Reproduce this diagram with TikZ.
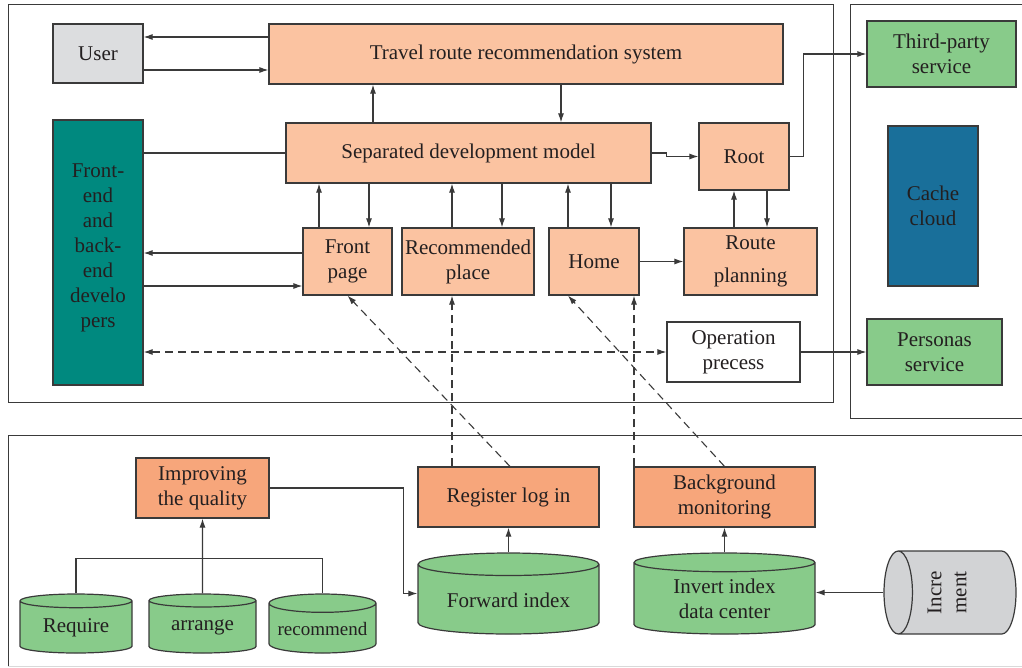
\documentclass[tikz,border=0pt]{standalone}
\usepackage{fontspec}
\setmainfont{Liberation Serif}
\usepackage{graphicx}
\usetikzlibrary{arrows.meta,shapes.geometric}
\definecolor{linec}{HTML}{3A3A3A}
\definecolor{txt}{HTML}{231F20}
\definecolor{peach}{HTML}{FBC3A1}
\definecolor{deeppeach}{HTML}{F7A67B}
\definecolor{leaf}{HTML}{88CB8A}
\definecolor{teal}{HTML}{00897F}
\definecolor{sea}{HTML}{196F9A}
\definecolor{usergrey}{HTML}{DCDDDF}
\definecolor{incgrey}{HTML}{D2D3D5}
\begin{document}
\begin{tikzpicture}[x=1pt, y=-1pt,
    font=\fontsize{21}{25}\selectfont,
    >={Latex[length=9pt,width=6pt]},
    box/.style={draw=linec, line width=1.2pt, fill=peach, text=txt, align=center, inner sep=1pt},
    cyl/.style={cylinder, shape border rotate=90, aspect=0.2, anchor=shape center, draw=linec, line width=1.2pt, fill=leaf, text=txt, align=center, inner sep=1pt},
    wire/.style={draw=linec, line width=1.1pt},
    dashwire/.style={wire, dash pattern=on 8pt off 5pt}]
    \useasboundingbox (0,0) rectangle (1022,667);
    % frames
    \draw [draw=linec, line width=1pt] (8,4) rectangle (833,402);
    \draw [draw=linec, line width=1pt] (1026,4) -- (850,4) -- (850,418) -- (1026,418);
    \draw [draw=linec, line width=1pt] (1026,435) -- (8,435) -- (8,666);
    \draw [draw=black!15, line width=1pt] (8,666) -- (1026,666);

    % upper part
    \node [box, fill=usergrey, minimum width=90, minimum height=59] (user) at (98,53.5) {User};
    \node [box, minimum width=514, minimum height=60] (travel) at (526,54) {Travel route recommendation system};
    \node [box, minimum width=365, minimum height=60] (sepdev) at (468.5,153) {Separated development model};
    \node [box, fill=teal, minimum width=90, minimum height=265] (devs) at (98,252.5) {Front-\\end\\and\\back-\\end\\develo\\pers\\[-11pt]\mbox{}};
    \node [box, minimum width=90, minimum height=67] (root) at (744,156.5) {Root};
    \node [box, minimum width=89, minimum height=67] (front) at (347.5,261.5) {Front\\page};
    \node [box, minimum width=132, minimum height=67] (recplace) at (468,261.5) {Recommended\\place};
    \node [box, minimum width=90, minimum height=67] (home) at (594,261.5) {Home};
    \node [box, minimum width=133, minimum height=67] (route) at (750.5,261.5) {Route\\[8pt]planning};
    \node [box, fill=white, minimum width=133, minimum height=60] (oper) at (733.5,352) {Operation\\precess};
    \node [box, fill=leaf, minimum width=149, minimum height=66] (third) at (941.5,54) {Third-party\\service};
    \node [box, fill=sea, minimum width=90, minimum height=160] (cache) at (933,206) {Cache\\cloud};
    \node [box, fill=leaf, minimum width=135, minimum height=66] (personas) at (934.5,352) {Personas\\service};

    \draw [wire, ->] (travel.west |- 0,37) -- (user.east |- 0,37);
    \draw [wire, ->] (user.east |- 0,70) -- (travel.west |- 0,70);
    \draw [wire, ->] (sepdev.north -| 373,0) -- (travel.south -| 373,0);
    \draw [wire, ->] (travel.south -| 561,0) -- (sepdev.north -| 561,0);
    \draw [wire] (sepdev.west) -- (devs.east |- sepdev.west);
    \draw [wire, ->] (sepdev.east) -- ++(15,0) |- (root.west);
    \draw [wire, ->] (root.east) -- ++(14,0) |- (third.west);
    \draw [wire, ->] (front.north -| 319,0) -- (sepdev.south -| 319,0);
    \draw [wire, ->] (sepdev.south -| 369,0) -- (front.north -| 369,0);
    \draw [wire, ->] (recplace.north -| 452,0) -- (sepdev.south -| 452,0);
    \draw [wire, ->] (sepdev.south -| 502,0) -- (recplace.north -| 502,0);
    \draw [wire, ->] (home.north -| 568,0) -- (sepdev.south -| 568,0);
    \draw [wire, ->] (sepdev.south -| 611,0) -- (home.north -| 611,0);
    \draw [wire, ->] (route.north -| 734,0) -- (root.south -| 734,0);
    \draw [wire, ->] (root.south -| 767,0) -- (route.north -| 767,0);
    \draw [wire, ->] (home.east) -- (route.west |- home.east);
    \draw [wire, ->] (front.west |- 0,253) -- (devs.east |- 0,253);
    \draw [wire, ->] (devs.east |- 0,286) -- (front.west |- 0,286);
    \draw [dashwire, <->] (devs.east |- oper.west) -- (oper.west);
    \draw [wire, ->] (oper.east) -- (personas.west);

    % lower part
    \node [box, fill=deeppeach, minimum width=133, minimum height=60] (improve) at (202.5,488) {Improving\\the quality};
    \node [box, fill=deeppeach, minimum width=181, minimum height=60] (register) at (508.5,497) {Register log in};
    \node [box, fill=deeppeach, minimum width=181, minimum height=60] (backmon) at (724.5,497) {Background\\monitoring};
    \node [cyl, minimum width=112, minimum height=59] (require) at (76,623.5) {Require};
    \node [cyl, minimum width=107, minimum height=59] (arrange) at (202.5,623.5) {arrange};
    \node [cyl, minimum width=107, minimum height=59, font=\fontsize{19}{22}\selectfont] (recommend) at (322.5,623.5) {recommend};
    \node [cyl, aspect=0.18, minimum width=181, minimum height=81] (forward) at (508.5,593.5) {Forward index};
    \node [cyl, aspect=0.18, minimum width=181, minimum height=81] (invert) at (724.5,593.5) {Invert index\\data center};
    \node [cyl, shape border rotate=180, aspect=0.63, fill=incgrey, minimum width=83, minimum height=132] (incr) at (950,592.5) {\rotatebox{90}{\begin{tabular}{@{}c@{}}Incre\\ment\\[-5pt]\mbox{}\end{tabular}}};

    \draw [wire] (require.north) -- ++(0,-35) -| (recommend.north);
    \draw [wire, ->] (arrange.north) -- (improve.south);
    \draw [wire, ->] (improve.east) -| ([xshift=-14pt]forward.west |- forward.shape center) -- (forward.west |- forward.shape center);
    \draw [wire, ->] (forward.north) -- (register.south);
    \draw [wire, ->] (invert.north) -- (backmon.south);
    \draw [wire, ->] (incr.west) -- (incr.west -| invert.east);

    % dashed links up
    \draw [dashwire, ->] (register.north -| 452,0) -- (recplace.south -| 452,0);
    \draw [dashwire, ->] (register.north -| 510,0) -- (front.south);
    \draw [dashwire, ->] (backmon.north -| 634,0) -- (home.south -| 634,0);
    \draw [dashwire, ->] (backmon.north) -- (home.south -| 568,0);
\end{tikzpicture}
\end{document}
